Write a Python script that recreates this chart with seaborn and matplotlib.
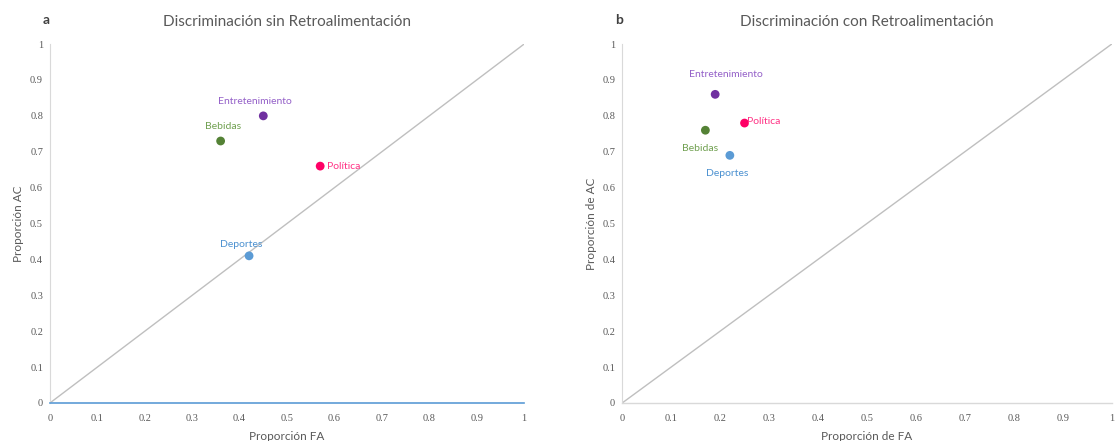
import matplotlib
matplotlib.use('Agg')
import matplotlib.pyplot as plt
import seaborn as sns
import pandas as pd

categorias = ['Entretenimiento', 'Bebidas', 'Política', 'Deportes']
fa_sin = [0.45, 0.36, 0.57, 0.42]
ac_sin = [0.80, 0.73, 0.66, 0.41]
fa_con = [0.19, 0.17, 0.25, 0.22]
ac_con = [0.86, 0.76, 0.78, 0.69]
colores = ['#7030A0', '#548235', '#FF0066', '#5B9BD5']
colores_texto = ['#9460C8', '#70A050', '#FF3385', '#4A90D0']
ticks = [0, 0.1, 0.2, 0.3, 0.4, 0.5, 0.6, 0.7, 0.8, 0.9, 1]
tick_labels = ['0', '0.1', '0.2', '0.3', '0.4', '0.5', '0.6', '0.7', '0.8', '0.9', '1']

sns.set_style('white')
plt.rcParams['font.family'] = ['Lato', 'DejaVu Sans']

fig = plt.figure(figsize=(11.15, 4.41), dpi=100)
ax1 = fig.add_axes([0.0448, 0.0862, 0.4252, 0.8138])
ax2 = fig.add_axes([0.558, 0.0862, 0.439, 0.8138])

# label offsets in points (dx, dy, ha, va)
offs_sin = [(-6, 7, 'center', 'bottom'), (2, 7, 'center', 'bottom'),
            (5, 0, 'left', 'center'), (-6, 5, 'center', 'bottom')]
offs_con = [(8, 11, 'center', 'bottom'), (-4, -10, 'center', 'top'),
            (2, 1, 'left', 'center'), (-2, -10, 'center', 'top')]


def panel(ax, fa, ac, offs, title, letra, xlabel, ylabel, eje_azul):
    df = pd.DataFrame({'FA': fa, 'AC': ac, 'cat': categorias})
    ax.plot([0, 1], [0, 1], color='#BFBFBF', lw=1, zorder=1)
    sns.scatterplot(data=df, x='FA', y='AC', hue='cat', palette=colores,
                    s=40, edgecolor='none', legend=False, ax=ax, zorder=3)
    for i, c in enumerate(categorias):
        dx, dy, ha, va = offs[i]
        ax.annotate(c, (fa[i], ac[i]), xytext=(dx, dy), textcoords='offset points',
                    ha=ha, va=va, fontsize=7.5, color=colores_texto[i])
    ax.set_xlim(0, 1)
    ax.set_ylim(0, 1)
    ax.set_xticks(ticks)
    ax.set_yticks(ticks)
    ax.set_xticklabels(tick_labels, fontsize=7.5, color='#595959', family='Liberation Serif')
    ax.set_yticklabels(tick_labels, fontsize=7.5, color='#595959', family='Liberation Serif')
    ax.tick_params(axis='x', length=0, pad=8)
    ax.tick_params(axis='y', length=0, pad=5)
    for s in ['top', 'right']:
        ax.spines[s].set_visible(False)
    ax.spines['left'].set_color('#D9D9D9')
    ax.spines['bottom'].set_color('#5B9BD5' if eje_azul else '#D9D9D9')
    ax.spines['bottom'].set_linewidth(1.2 if eje_azul else 1)
    ax.set_xlabel(xlabel, fontsize=8.5, color='#595959', labelpad=6)
    ax.set_ylabel(ylabel, fontsize=8.5, color='#595959', labelpad=4)
    ax.set_title(title, fontsize=11, color='#595959', pad=13)
    ax.text(-0.015, 1.05, letra, transform=ax.transAxes, fontsize=10,
            fontweight='bold', color='#404040', ha='left', va='bottom')


panel(ax1, fa_sin, ac_sin, offs_sin, 'Discriminación sin Retroalimentación', 'a',
      'Proporción FA', 'Proporción AC', True)
panel(ax2, fa_con, ac_con, offs_con, 'Discriminación con Retroalimentación', 'b',
      'Proporción de FA', 'Proporción de AC', False)

fig.savefig('out.png', dpi=100)
